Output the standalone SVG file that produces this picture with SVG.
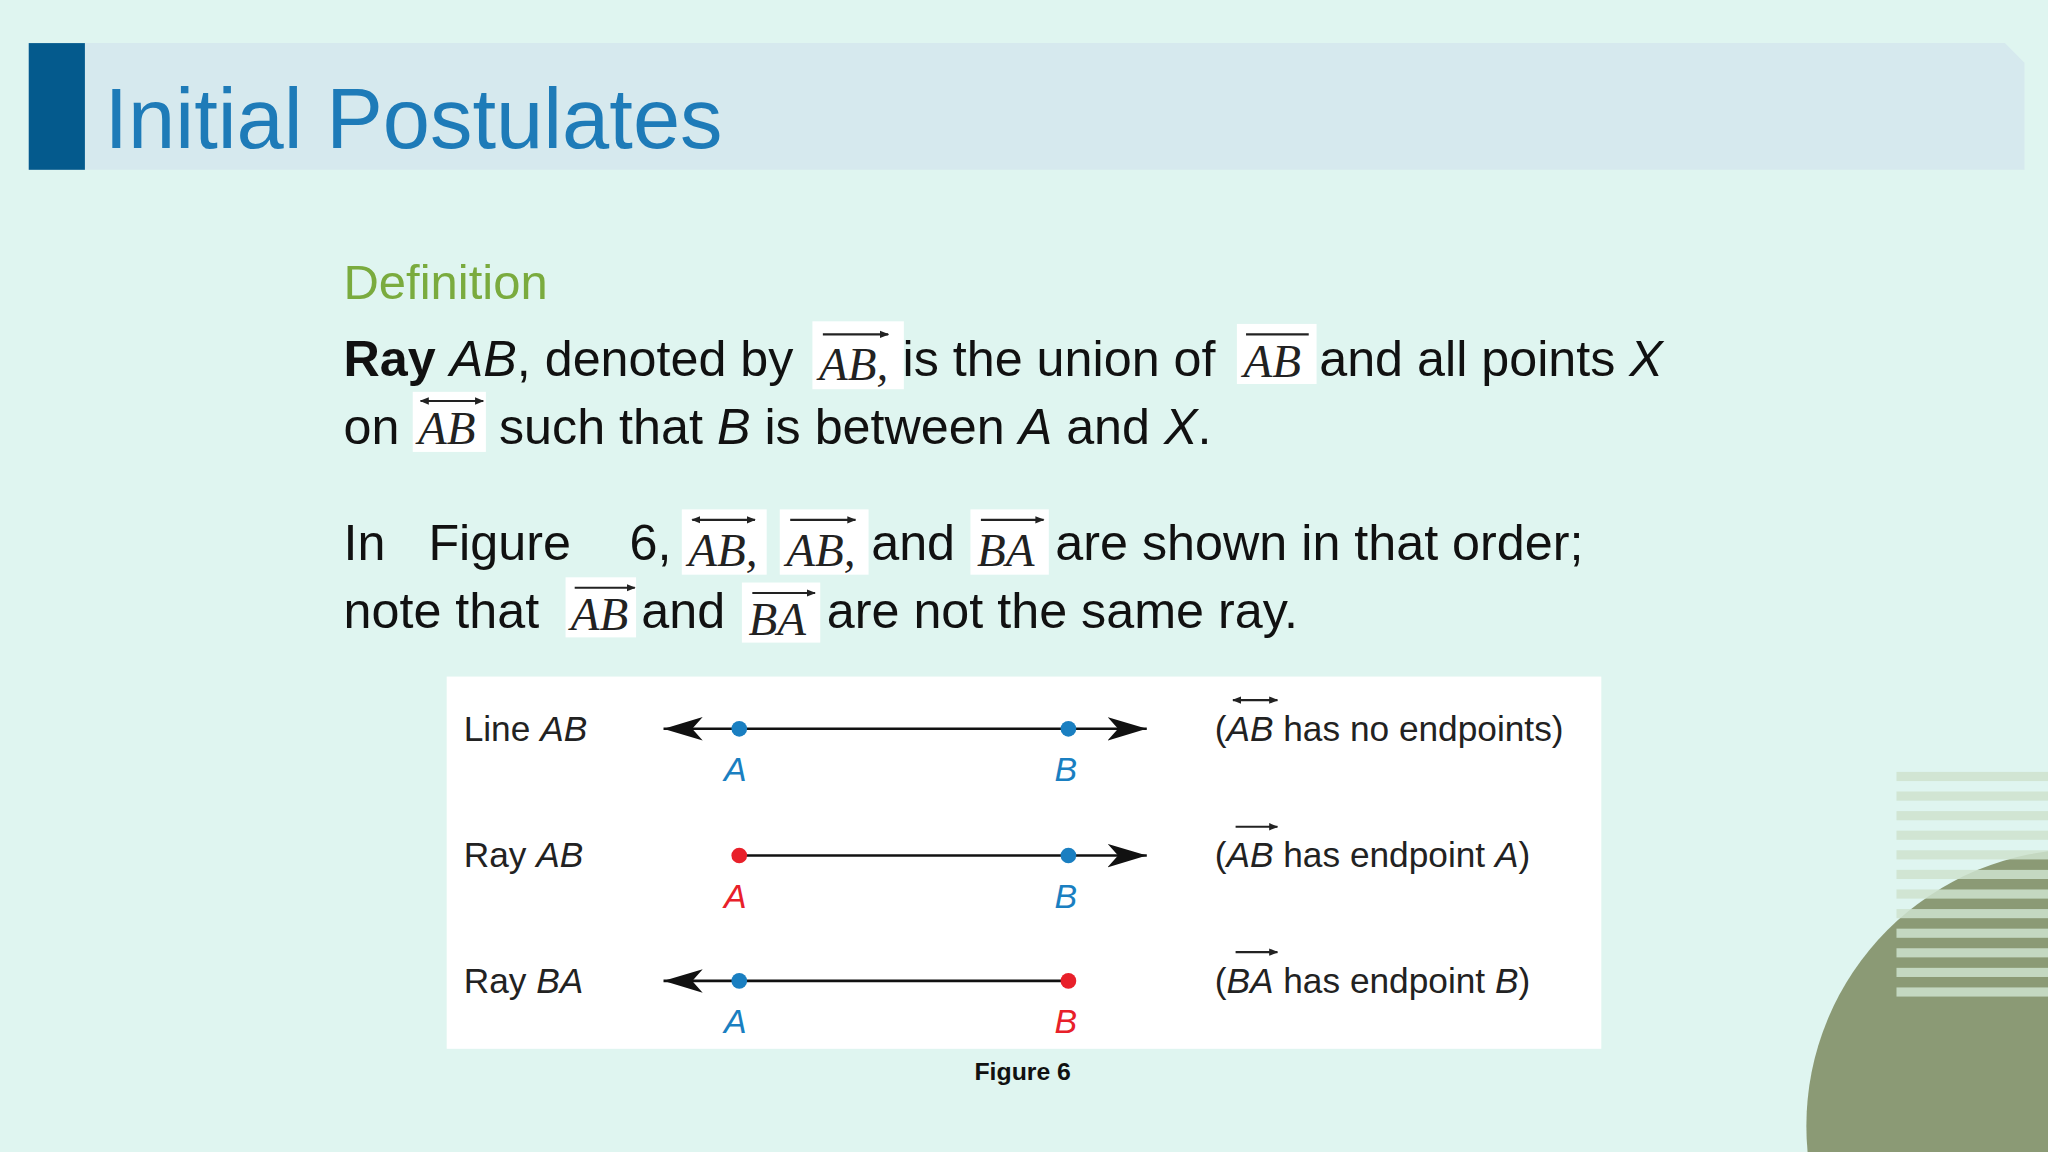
<svg xmlns="http://www.w3.org/2000/svg" width="2048" height="1152" viewBox="0 0 2048 1152">
<defs>
<style>
.b{font-family:"Liberation Sans",Arial,sans-serif;font-size:38.5px;fill:#111}
.m{font-family:"Liberation Serif","Times New Roman",serif;font-style:italic;font-size:36px;fill:#222}
.f{font-family:"Liberation Sans",Arial,sans-serif;font-size:27px;fill:#222}
.bl{fill:#1a7fc1}.rd{fill:#e8202a}
.ln{stroke:#111;stroke-width:2;fill:none}
.ar{stroke:#222;stroke-width:1.6;fill:none}
.box{fill:#fff}
</style>
<marker id="ah" viewBox="0 0 10 10" refX="9" refY="5" markerWidth="7" markerHeight="7" orient="auto-start-reverse" markerUnits="userSpaceOnUse"><path d="M0,1 L10,5 L0,9 z" fill="#222"/></marker>
<marker id="big" viewBox="0 0 30 20" refX="30" refY="10" markerWidth="30" markerHeight="20" orient="auto-start-reverse" markerUnits="userSpaceOnUse"><path d="M0,1 L30,10 L0,19 L8,10 z" fill="#111"/></marker>
</defs>
<g transform="scale(1.306122)">
<rect width="1568" height="882" fill="#dff5f0"/>
<g id="decor">
<circle cx="1595" cy="862" r="212" fill="#8b9a75"/>
<g fill="#cfe3cf" opacity="0.85">
<rect x="1452" y="591" width="116" height="7"/><rect x="1452" y="606" width="116" height="7"/><rect x="1452" y="621" width="116" height="7"/><rect x="1452" y="636" width="116" height="7"/><rect x="1452" y="651" width="116" height="7"/><rect x="1452" y="666" width="116" height="7"/><rect x="1452" y="681" width="116" height="7"/><rect x="1452" y="696" width="116" height="7"/><rect x="1452" y="711" width="116" height="7"/><rect x="1452" y="726" width="116" height="7"/><rect x="1452" y="741" width="116" height="7"/><rect x="1452" y="756" width="116" height="7"/>
</g>
</g>
<g id="header">
<path d="M22,33 H1535 L1550,48 V130 H22 z" fill="#d6e9ee"/>
<rect x="22" y="33" width="43" height="97" fill="#045a8d"/>
<text x="80" y="113" font-family="'Liberation Sans',Arial,sans-serif" font-size="65" fill="#1e7bb8">Initial Postulates</text>
</g>
<g id="definition">
<text x="263" y="229" font-family="'Liberation Sans',Arial,sans-serif" font-size="37.5" fill="#7aab3e">Definition</text>
<rect class="box" x="622" y="246" width="70" height="52"/>
<rect class="box" x="947" y="248" width="61" height="46"/>
<rect class="box" x="316" y="300" width="56" height="46"/>
<text class="b" x="263" y="288"><tspan font-weight="bold">Ray</tspan> <tspan font-style="italic">AB</tspan>, denoted by</text>
<text class="m" x="627" y="291">AB,</text>
<line class="ar" x1="630" y1="256" x2="680" y2="256" marker-end="url(#ah)"/>
<text class="b" x="691" y="288">is the union of</text>
<text class="m" x="952" y="289">AB</text>
<line class="ar" x1="954" y1="256" x2="1002" y2="256"/>
<text class="b" x="1010" y="288">and all points <tspan font-style="italic">X</tspan></text>
<text class="b" x="263" y="340">on</text>
<text class="m" x="320" y="340">AB</text>
<line class="ar" x1="322" y1="307" x2="370" y2="307" marker-start="url(#ah)" marker-end="url(#ah)"/>
<text class="b" x="382" y="340">such that <tspan font-style="italic">B</tspan> is between <tspan font-style="italic">A</tspan> and <tspan font-style="italic">X</tspan>.</text>
</g>
<g id="paragraph">
<rect class="box" x="522" y="390" width="65" height="50"/>
<rect class="box" x="597" y="390" width="68" height="50"/>
<rect class="box" x="743" y="390" width="60" height="50"/>
<rect class="box" x="433" y="442" width="54" height="46"/>
<rect class="box" x="568" y="446" width="60" height="46"/>
<text class="b" x="263" y="429">In</text>
<text class="b" x="328" y="429">Figure</text>
<text class="b" x="482" y="429">6,</text>
<text class="m" x="527" y="433">AB,</text>
<line class="ar" x1="530" y1="398" x2="578" y2="398" marker-start="url(#ah)" marker-end="url(#ah)"/>
<text class="m" x="602" y="433">AB,</text>
<line class="ar" x1="605" y1="398" x2="655" y2="398" marker-end="url(#ah)"/>
<text class="b" x="667" y="429">and</text>
<text class="m" x="748" y="433">BA</text>
<line class="ar" x1="751" y1="398" x2="799" y2="398" marker-end="url(#ah)"/>
<text class="b" x="808" y="429">are shown in that order;</text>
<text class="b" x="263" y="481">note that</text>
<text class="m" x="437" y="482">AB</text>
<line class="ar" x1="440" y1="450" x2="486" y2="450" marker-end="url(#ah)"/>
<text class="b" x="491" y="481">and</text>
<text class="m" x="573" y="486">BA</text>
<line class="ar" x1="576" y1="454" x2="624" y2="454" marker-end="url(#ah)"/>
<text class="b" x="633" y="481">are not the same ray.</text>
</g>
<g id="figure">
<rect x="342" y="518" width="884" height="285" fill="#fff"/>
<text class="f" x="355" y="567">Line <tspan font-style="italic">AB</tspan></text>
<text class="f" x="355" y="664">Ray <tspan font-style="italic">AB</tspan></text>
<text class="f" x="355" y="760">Ray <tspan font-style="italic">BA</tspan></text>
<g id="connectors">
<line class="ln" x1="508" y1="558" x2="878" y2="558" marker-start="url(#big)" marker-end="url(#big)"/>
<line class="ln" x1="566" y1="655" x2="878" y2="655" marker-end="url(#big)"/>
<line class="ln" x1="508" y1="751" x2="818" y2="751" marker-start="url(#big)"/>
</g>
<circle class="bl" cx="566" cy="558" r="6"/><circle class="bl" cx="818" cy="558" r="6"/>
<circle class="rd" cx="566" cy="655" r="6"/><circle class="bl" cx="818" cy="655" r="6"/>
<circle class="bl" cx="566" cy="751" r="6"/><circle class="rd" cx="818" cy="751" r="6"/>
<g font-family="'Liberation Sans',Arial,sans-serif" font-size="26" font-style="italic" text-anchor="middle">
<text class="bl" x="563" y="598">A</text><text class="bl" x="816" y="598">B</text>
<text class="rd" x="563" y="695">A</text><text class="bl" x="816" y="695">B</text>
<text class="bl" x="563" y="791">A</text><text class="rd" x="816" y="791">B</text>
</g>
<text class="f" x="930" y="567">(<tspan font-style="italic">AB</tspan> has no endpoints)</text>
<line class="ar" x1="944" y1="536" x2="978" y2="536" stroke-width="1.4" marker-start="url(#ah)" marker-end="url(#ah)"/>
<text class="f" x="930" y="664">(<tspan font-style="italic">AB</tspan> has endpoint <tspan font-style="italic">A</tspan>)</text>
<line class="ar" x1="946" y1="633" x2="978" y2="633" stroke-width="1.4" marker-end="url(#ah)"/>
<text class="f" x="930" y="760">(<tspan font-style="italic">BA</tspan> has endpoint <tspan font-style="italic">B</tspan>)</text>
<line class="ar" x1="946" y1="729" x2="978" y2="729" stroke-width="1.4" marker-end="url(#ah)"/>
<text x="783" y="827" text-anchor="middle" font-family="'Liberation Sans',Arial,sans-serif" font-size="19" font-weight="bold" fill="#111">Figure 6</text>
</g>
</g>
</svg>
